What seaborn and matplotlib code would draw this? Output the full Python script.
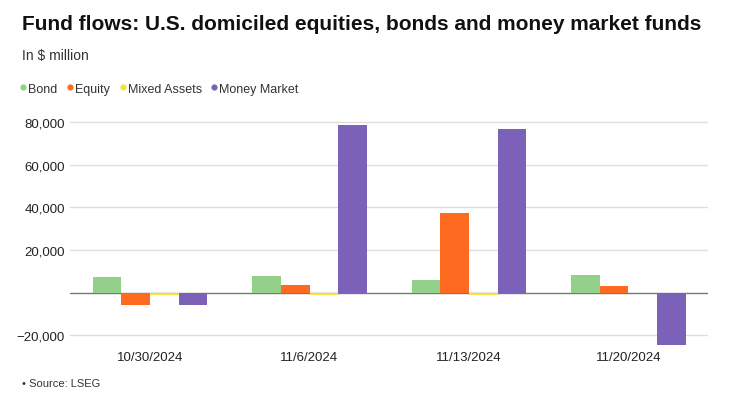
import pandas as pd
import matplotlib.pyplot as plt
import seaborn as sns
from matplotlib.lines import Line2D
from matplotlib.ticker import FuncFormatter

# Weekly fund flows, $ million
weeks = ['10/30/2024', '11/6/2024', '11/13/2024', '11/20/2024']
categories = ['Bond', 'Equity', 'Mixed Assets', 'Money Market']
bond = [7500, 8000, 6000, 8400]
equity = [-5600, 3700, 37500, 3200]
mixed_assets = [-900, -1000, -900, -300]
money_market = [-5600, 78700, 76800, -24400]

colors = ['#93d18b', '#ff6a21', '#f3e33a', '#7b62b8']

df = pd.DataFrame({'Week': weeks, 'Bond': bond, 'Equity': equity,
                   'Mixed Assets': mixed_assets, 'Money Market': money_market})
df = df.melt(id_vars='Week', var_name='Category', value_name='Flow')

sns.set_style('white')
plt.rcParams['font.family'] = ['Liberation Sans', 'DejaVu Sans']

fig = plt.figure(figsize=(7.4, 4.02), dpi=100)
ax = fig.add_axes([0.095, 0.137, 0.862, 0.567])

sns.barplot(data=df, x='Week', y='Flow', hue='Category', hue_order=categories,
            palette=colors, width=0.72, saturation=1, linewidth=0, ax=ax,
            legend=False)
for p in ax.patches:
    p.set_zorder(3)

# Grid and zero line
for y in [-20000, 20000, 40000, 60000, 80000]:
    ax.axhline(y, color='#dddddd', lw=1, zorder=1)
ax.axhline(0, color='#777777', lw=1.0, zorder=2)

ax.set_ylim(-25000, 82000)
ax.set_yticks([-20000, 20000, 40000, 60000, 80000])
ax.yaxis.set_major_formatter(FuncFormatter(lambda v, p: f'{int(v):,}'.replace('-', '\u2212')))
ax.tick_params(axis='both', length=0, labelsize=9.5, colors='#222222')
ax.tick_params(axis='y', pad=4)
ax.tick_params(axis='x', pad=4)
ax.set_xlabel('')
ax.set_ylabel('')
sns.despine(ax=ax, left=True, bottom=True)

# Title, subtitle, legend, source
fig.text(0.03, 0.94, 'Fund flows: U.S. domiciled equities, bonds and money market funds',
         fontsize=15, fontweight='bold', va='center', ha='left', color='#111111')
fig.text(0.03, 0.86, 'In $ million', fontsize=10, va='center', ha='left', color='#333333')

handles = [Line2D([0], [0], marker='o', color='w', markerfacecolor=c, markersize=5.5, label=l)
           for c, l in zip(colors, categories)]
fig.legend(handles=handles, loc='center left', bbox_to_anchor=(0.008, 0.777), ncol=4,
           frameon=False, fontsize=9, handletextpad=-0.1, columnspacing=0.5,
           handlelength=1.0, labelcolor='#333333')

fig.text(0.03, 0.045, '\u2022 Source: LSEG', fontsize=8, va='center', ha='left', color='#333333')

fig.savefig('out.png', dpi=100)
plt.close(fig)
